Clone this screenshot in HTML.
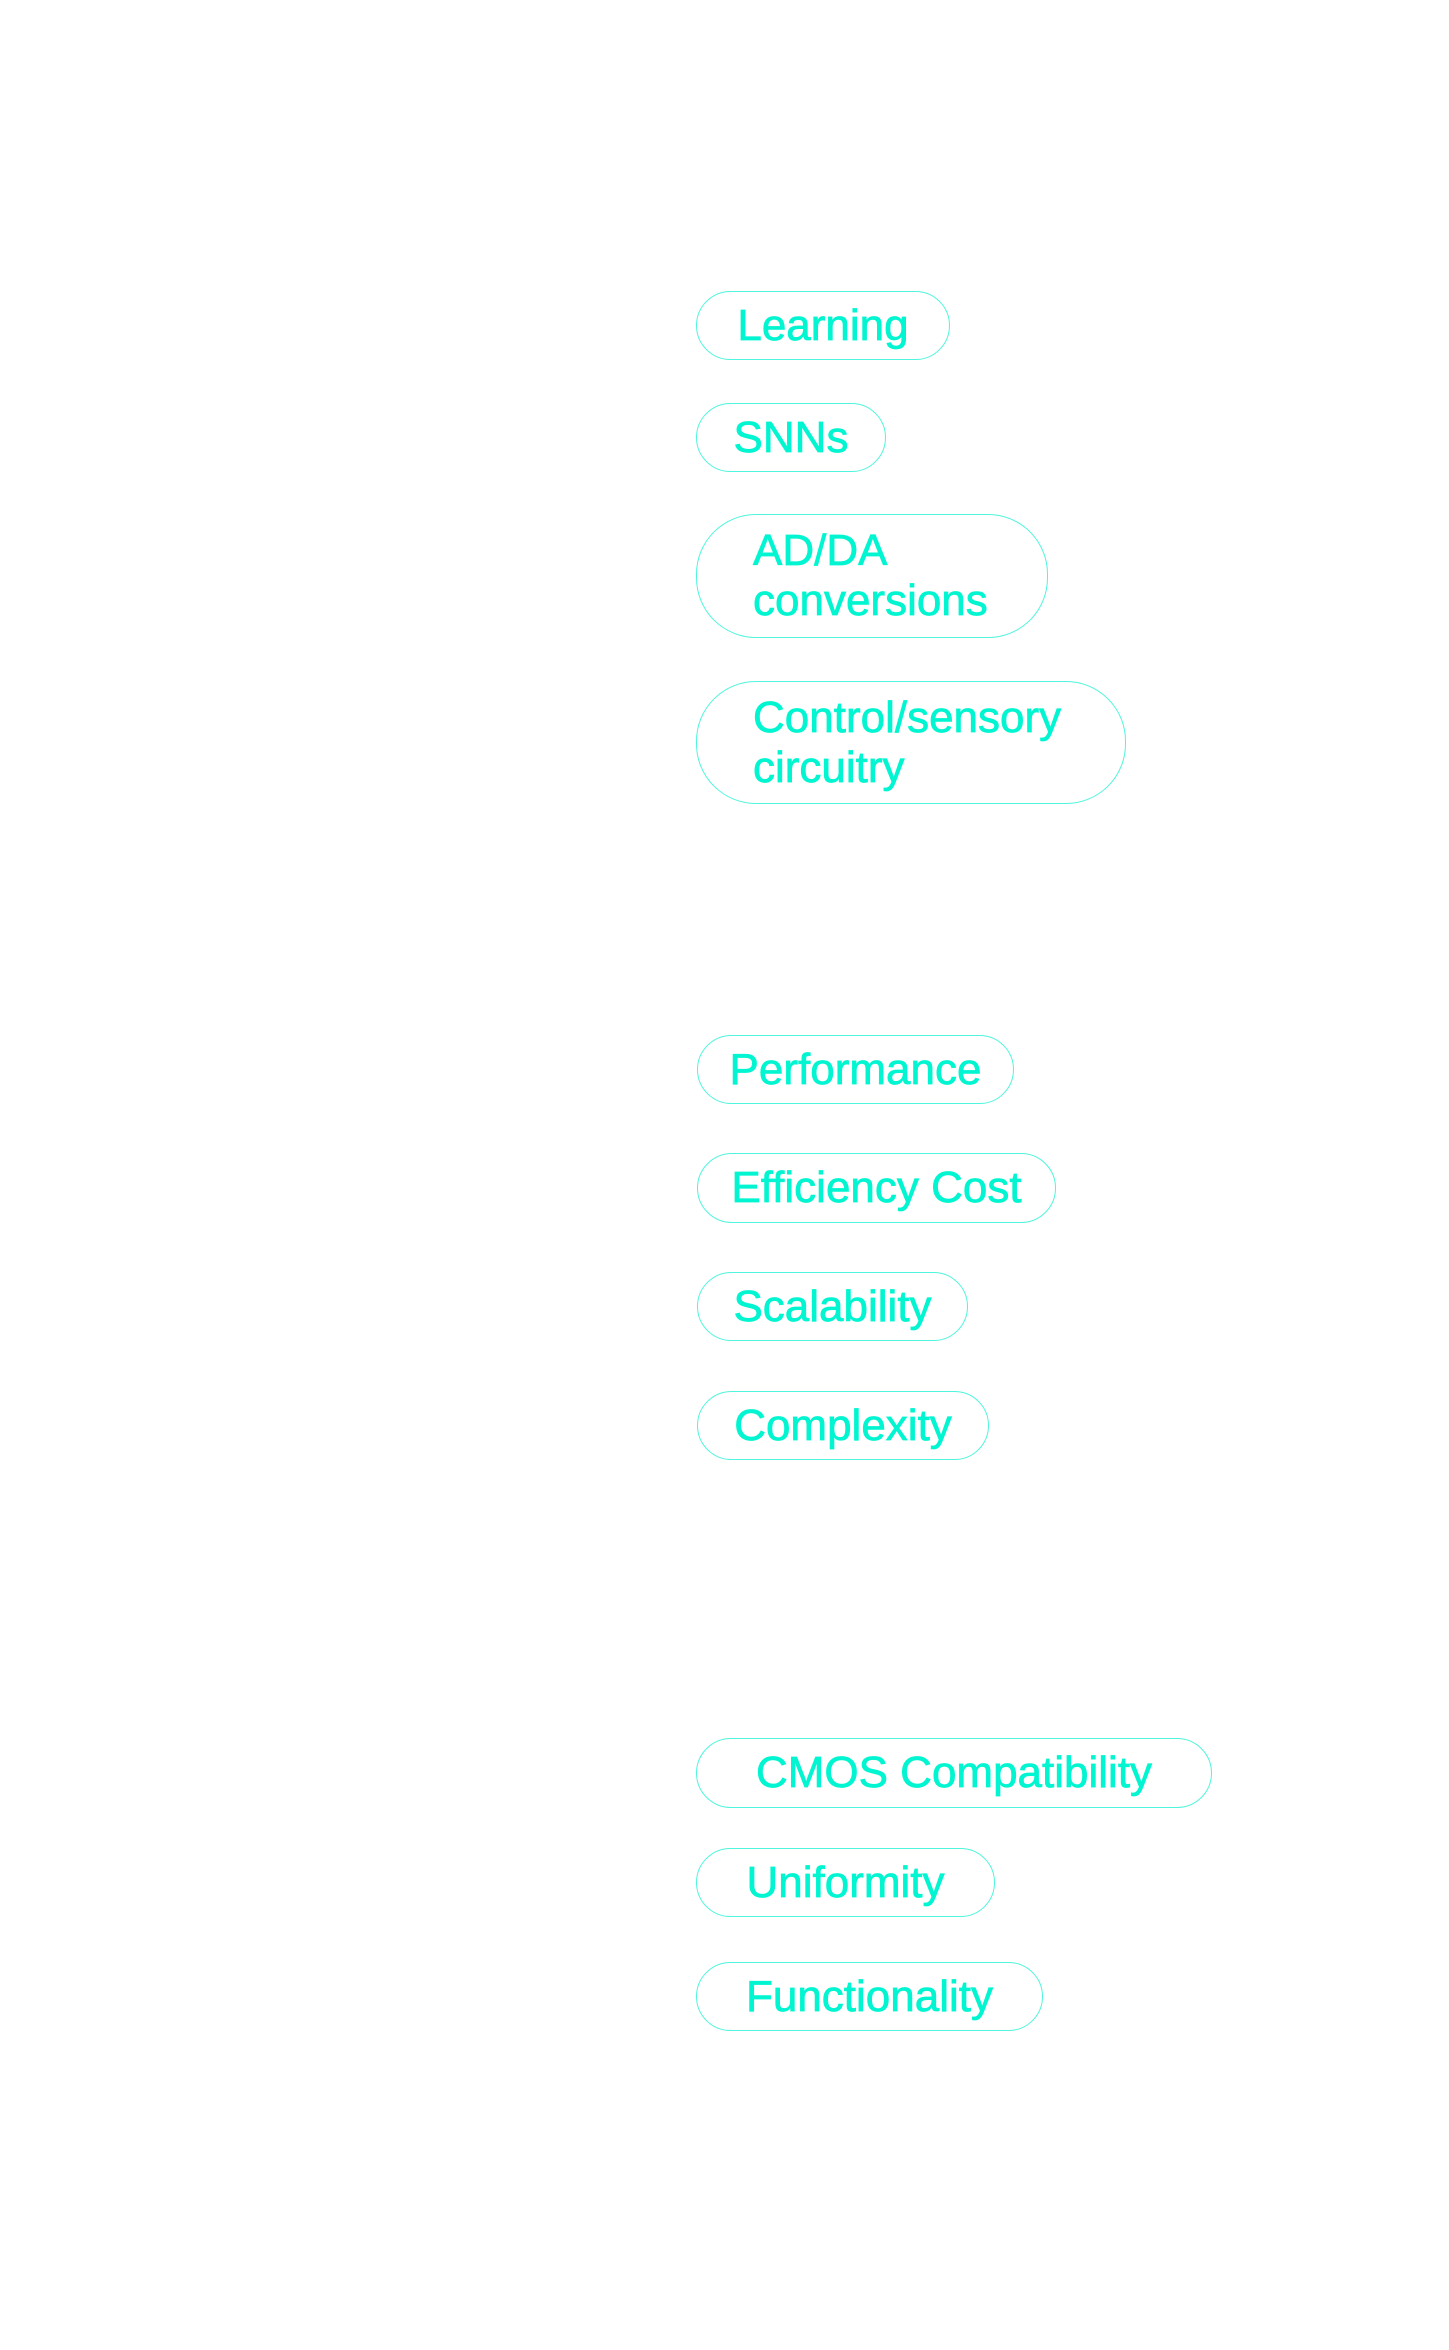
<!DOCTYPE html>
<html><head><meta charset="utf-8"><style>
html,body{margin:0;padding:0;background:#fff;}
body{width:1449px;height:2350px;position:relative;overflow:hidden;font-family:"Liberation Sans",sans-serif;}
.p{position:absolute;box-sizing:border-box;border:1.5px solid #4ff5dc;border-radius:35px;color:#00f5d0;font-size:44px;line-height:1;display:flex;align-items:center;justify-content:center;white-space:nowrap;-webkit-text-stroke:0.7px #00f5d0;}
.m{justify-content:flex-start;padding-left:56px;border-radius:60px;line-height:50px;white-space:normal;}
</style></head><body>
<div class="p" style="left:696px;top:291px;width:254px;height:69px;">Learning</div>
<div class="p" style="left:696px;top:403px;width:190px;height:69px;">SNNs</div>
<div class="p m" style="left:696px;top:514px;width:352px;height:124px;">AD/DA<br>conversions</div>
<div class="p m" style="left:696px;top:681px;width:430px;height:123px;">Control/sensory<br>circuitry</div>

<div class="p" style="left:697px;top:1035px;width:317px;height:69px;">Performance</div>
<div class="p" style="left:697px;top:1153px;width:359px;height:70px;">Efficiency Cost</div>
<div class="p" style="left:697px;top:1272px;width:271px;height:69px;">Scalability</div>
<div class="p" style="left:697px;top:1391px;width:292px;height:69px;">Complexity</div>

<div class="p" style="left:696px;top:1738px;width:516px;height:70px;">CMOS Compatibility</div>
<div class="p" style="left:696px;top:1848px;width:299px;height:69px;">Uniformity</div>
<div class="p" style="left:696px;top:1962px;width:347px;height:69px;">Functionality</div>
</body></html>
